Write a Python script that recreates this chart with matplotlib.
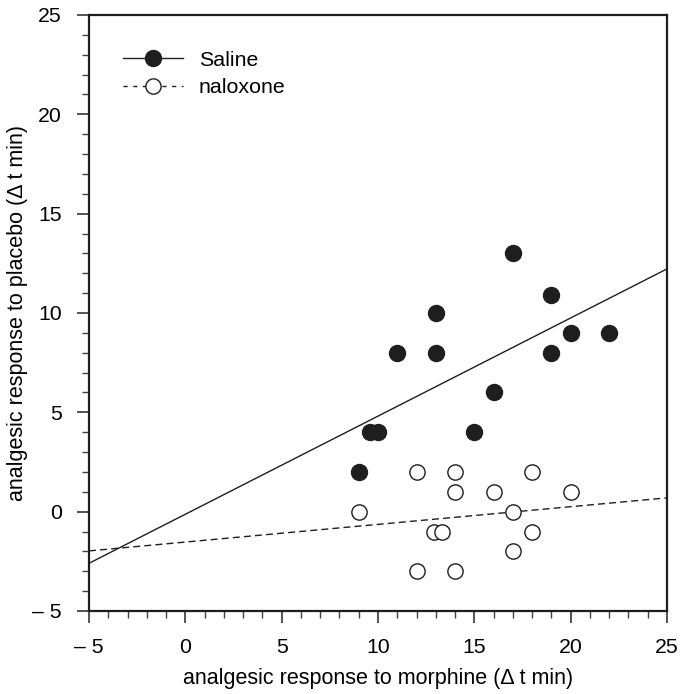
import numpy as np
import matplotlib
matplotlib.use("Agg")
import matplotlib.pyplot as plt
from matplotlib.ticker import MultipleLocator, FixedLocator

plt.rcParams['font.family'] = ['Liberation Sans', 'DejaVu Sans']

# saline group (filled)
saline_x = [9, 9.6, 10, 11, 13, 13, 15, 16, 17, 19, 19, 20, 22]
saline_y = [2, 4, 4, 8, 10, 8, 4, 6, 13, 10.9, 8, 9, 9]
# naloxone group (open)
nalox_x = [9, 12, 14, 18, 14, 16, 20, 17, 12.9, 13.3, 18, 17, 12, 14]
nalox_y = [0, 2, 2, 2, 1, 1, 1, 0, -1, -1, -1, -2, -3, -3]

# regression lines: (slope, intercept)
saline_fit = (0.494, -0.13)
nalox_fit = (0.089, -1.53)

xlim = (-5, 25)
ylim = (-5, 25)
xticks = [-5, 0, 5, 10, 15, 20, 25]
yticks = [-5, 0, 5, 10, 15, 20, 25]

def lab(v):
    return "\u2013 %d" % abs(v) if v < 0 else "%d" % v

ink = "#1e1e1e"

fig = plt.figure(figsize=(6.83, 6.94), dpi=100)
ax = fig.add_axes([0.1303, 0.1196, 0.8463, 0.8588])

xx = np.array(xlim)
ax.plot(xx, saline_fit[0] * xx + saline_fit[1], color=ink, lw=1.0)
ax.plot(xx, nalox_fit[0] * xx + nalox_fit[1], color=ink, lw=1.0, ls=(0, (5, 3)))

ax.plot(saline_x, saline_y, "o", ms=11.5, mfc=ink, mec=ink, ls="none")
ax.plot(nalox_x, nalox_y, "o", ms=11, mfc="white", mec=ink, mew=1.0, ls="none")

# legend handles
h1, = ax.plot([], [], "-o", color=ink, ms=11.5, mfc=ink, mec=ink, lw=1.0, label="Saline")
h2, = ax.plot([], [], "o", color=ink, ms=11, mfc="white", mec=ink, mew=1.0,
              lw=1.0, ls=(0, (3, 4)), label="naloxone")
ax.legend(handles=[h1, h2], loc="upper left", frameon=False, fontsize=15.4,
          bbox_to_anchor=(0.0588, 0.94), borderpad=0, borderaxespad=0,
          handlelength=2.8, handletextpad=0.75, labelspacing=0.4)

ax.set_xlim(xlim)
ax.set_ylim(ylim)
ax.xaxis.set_major_locator(FixedLocator(xticks))
ax.yaxis.set_major_locator(FixedLocator(yticks))
ax.set_xticklabels([lab(v) for v in xticks])
ax.set_yticklabels([lab(v) for v in yticks])
ax.xaxis.set_minor_locator(MultipleLocator(1))
ax.yaxis.set_minor_locator(MultipleLocator(1))
ax.tick_params(which="major", length=8.5, width=1.3, direction="out",
               labelsize=15.3, color="#444444", pad=11)
ax.tick_params(which="minor", length=5, width=1.0, direction="out", color="#444444")
for s in ax.spines.values():
    s.set_linewidth(1.6)
    s.set_color(ink)

ax.set_xlabel("analgesic response to morphine (\u0394 t min)", fontsize=15.5, labelpad=8)
ax.set_ylabel("analgesic response to placebo (\u0394 t min)", fontsize=15.5, labelpad=3.2)

fig.savefig("out.png", dpi=100)
